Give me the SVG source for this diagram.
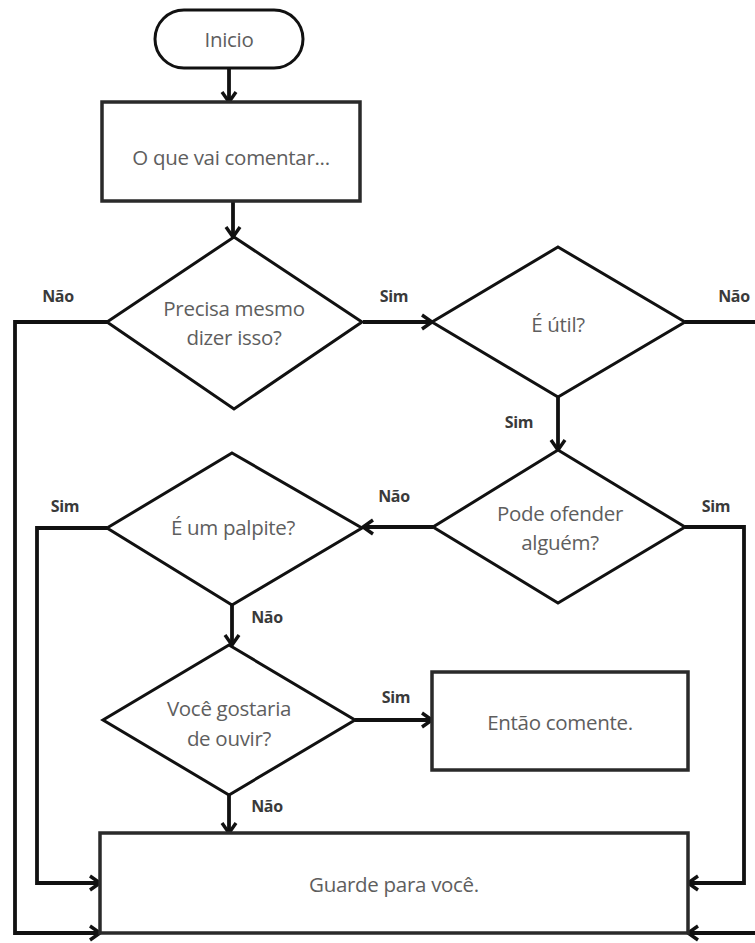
<svg xmlns="http://www.w3.org/2000/svg" width="755" height="943" viewBox="0 0 755 943">
  <style>
    .shape { fill: #ffffff; stroke: #111111; stroke-width: 3; }
    .box { fill: #ffffff; stroke: #2a2a2a; stroke-width: 3.5; }
    .txt { font-family: "Open Sans", "Liberation Sans", sans-serif; font-size: 20.5px; fill: #5e5e5e; text-anchor: middle; letter-spacing: -0.3px; }
    .lbl { font-family: "Open Sans", "Liberation Sans", sans-serif; font-size: 16px; font-weight: bold; fill: #3a3a3a; text-anchor: middle; letter-spacing: -0.3px; }
    .edge { fill: none; stroke: #111111; stroke-width: 3.8; }
    .arrow { marker-end: url(#head); }
  </style>
  <defs>
    <marker id="head" viewBox="0 0 14 18" refX="12" refY="9" markerWidth="14" markerHeight="18" markerUnits="userSpaceOnUse" orient="auto" overflow="visible">
      <path d="M2,2 L12,9 L2,16" fill="none" stroke="#111111" stroke-width="3.4"/>
    </marker>
  </defs>
  <rect width="755" height="943" fill="#ffffff"/>

  <!-- connectors -->
  <g id="connectors">
    <path class="edge arrow" d="M229,68 V102"/>
    <path class="edge arrow" d="M233,201 V237"/>
    <path class="edge arrow" d="M107,322 H15 V933 H100"/>
    <path class="edge arrow" d="M363,322 H432"/>
    <path class="edge" d="M685,322 H760"/>
    <path class="edge arrow" d="M558,397 V450"/>
    <path class="edge arrow" d="M433,527 H363"/>
    <path class="edge arrow" d="M685,527 H744 V883 H688"/>
    <path class="edge arrow" d="M107,528 H37 V883 H100"/>
    <path class="edge arrow" d="M232,605 V645"/>
    <path class="edge arrow" d="M355,720 H432"/>
    <path class="edge arrow" d="M229,795 V833"/>
    <path class="edge arrow" d="M760,933 H688"/>
  </g>

  <!-- edge labels -->
  <g id="labels">
    <text class="lbl" x="58" y="302">Não</text>
    <text class="lbl" x="394" y="302">Sim</text>
    <text class="lbl" x="734" y="302">Não</text>
    <text class="lbl" x="519" y="428">Sim</text>
    <text class="lbl" x="394" y="502">Não</text>
    <text class="lbl" x="716" y="512">Sim</text>
    <text class="lbl" x="65" y="512">Sim</text>
    <text class="lbl" x="267" y="623">Não</text>
    <text class="lbl" x="396" y="703">Sim</text>
    <text class="lbl" x="267" y="812">Não</text>
  </g>

  <g id="inicio">
    <rect class="shape" x="155" y="10" width="148" height="58" rx="29" ry="29"/>
    <text class="txt" x="229" y="47">Inicio</text>
  </g>

  <g id="comentar">
    <rect class="box" x="102" y="102" width="258" height="99"/>
    <text class="txt" x="231" y="165">O que vai comentar...</text>
  </g>

  <g id="precisa">
    <polygon class="shape" points="234,237 362,322 234,409 107,322"/>
    <text class="txt" x="234" y="316">Precisa mesmo</text>
    <text class="txt" x="234" y="345">dizer isso?</text>
  </g>

  <g id="util">
    <polygon class="shape" points="558,247 685,322 558,397 432,322"/>
    <text class="txt" x="558" y="332">É útil?</text>
  </g>

  <g id="ofender">
    <polygon class="shape" points="558,450 685,527 558,603 433,527"/>
    <text class="txt" x="560" y="521">Pode ofender</text>
    <text class="txt" x="560" y="550">alguém?</text>
  </g>

  <g id="palpite">
    <polygon class="shape" points="232,453 362,528 232,605 107,528"/>
    <text class="txt" x="233" y="535">É um palpite?</text>
  </g>

  <g id="ouvir">
    <polygon class="shape" points="229,645 355,720 229,795 103,720"/>
    <text class="txt" x="229" y="716">Você gostaria</text>
    <text class="txt" x="229" y="746">de ouvir?</text>
  </g>

  <g id="comente">
    <rect class="box" x="432" y="672" width="256" height="98"/>
    <text class="txt" x="560" y="730">Então comente.</text>
  </g>

  <g id="guarde">
    <rect class="box" x="100" y="833" width="588" height="100"/>
    <text class="txt" x="394" y="892">Guarde para você.</text>
  </g>
</svg>
